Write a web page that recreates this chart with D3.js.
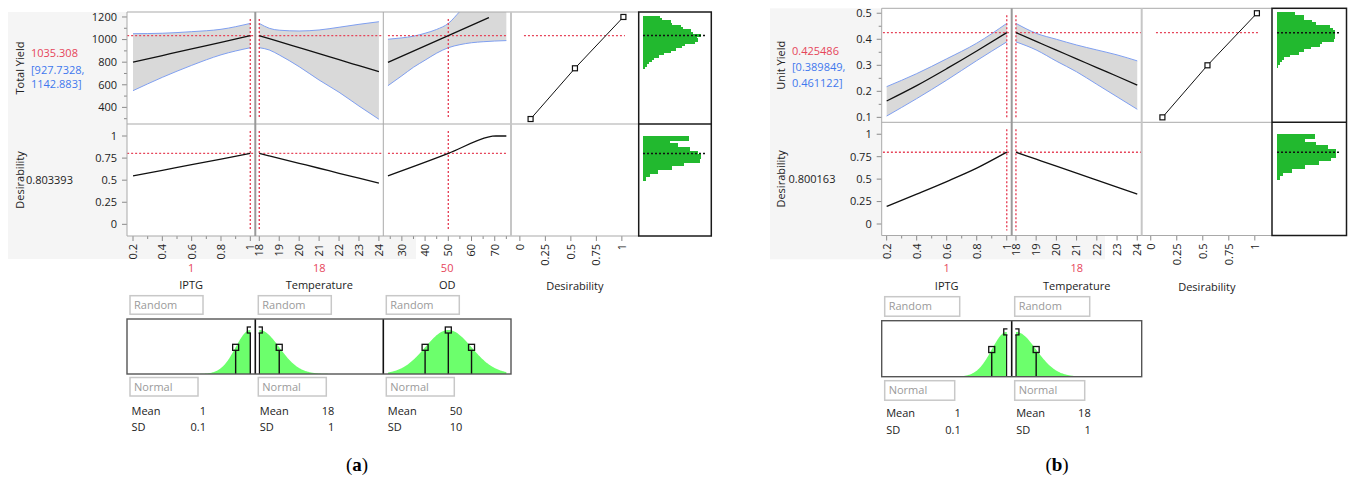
<!DOCTYPE html>
<html>
<head>
<meta charset="utf-8">
<script src="https://cdn.jsdelivr.net/npm/d3@7"></script>
<style>
  body { margin: 0; background: #fff; }
  text { font-family: "Open Sans", "Noto Sans", sans-serif; font-size: 11px; fill: #222; }
</style>
</head>
<body>
<svg id="chart" width="1349" height="479"></svg>
<script>
// ---------- data ----------
// axis ticks
const iptgTicks = [0.2, 0.4, 0.6, 0.8, 1];
const iptgMinor = [0.3, 0.5, 0.7, 0.9];
const tempTicks = [18, 19, 20, 21, 22, 23, 24];
const odTicks = [30, 40, 50, 60, 70];
const odMinor = [25, 35, 45, 55, 65, 75];
const desTicks = [0, 0.25, 0.5, 0.75, 1];
const totalTicks = [400, 600, 800, 1000, 1200];
const totalMinor = [300, 500, 700, 900, 1100];
const unitTicks = [0.1, 0.2, 0.3, 0.4, 0.5];
const unitMinor = [0.15, 0.25, 0.35, 0.45];

// (a) Total Yield profiles
const iptgGrid = [0.2, 0.4, 0.6, 0.8, 1.0];
const totalIptg = [800, 859, 918, 976, 1035];
const totalIptgLo = [548, 666, 772, 865, 928];
const totalIptgHi = [1052, 1056, 1070, 1091, 1143];
const tempGridA = [18, 18.5, 19, 20, 21, 22, 23, 24];
const totalTemp = [1035, 1008, 982, 929, 876, 822, 769, 716];
const totalTempLo = [928, 908, 864, 760, 642, 534, 412, 295];
const totalTempHi = [1143, 1100, 1083, 1076, 1085, 1109, 1135, 1158];
const odGrid = [24, 30, 35, 40, 45, 50, 55, 60, 65, 70, 75];
const totalOdLo = [592, 680, 755, 818, 880, 928, 955, 972, 981, 987, 991];
const totalOdHi = [1003, 1015, 1030, 1056, 1090, 1143, 1250, 1360, 1470, 1580, 1690];
const odLineX = [24, 50, 67.5];
const totalOd = [798, 1035, 1194];
// (a) desirability profiles
const desAIptg = [0.549, 0.612, 0.676, 0.739, 0.803];
const desATemp = [0.803, 0.775, 0.747, 0.691, 0.635, 0.578, 0.522, 0.466];
const odDesX = [24, 50, 67.5, 69, 70.5, 75];
const desAOd = [0.549, 0.803, 0.99, 0.998, 1.0, 1.0];
// (a) desirability function
const desFnAx = [0.105, 0.54, 1.015];
const desFnAy = [297, 746, 1200];
// (a) simulated distributions
const totalBins = [1200, 1180, 1160, 1140, 1120, 1100, 1080, 1060, 1040, 1020, 1000, 980,
                   960, 940, 920, 900, 880, 860, 840, 820, 800, 780, 760];
const totalCounts = [50, 57, 83, 86, 113, 119, 143, 151, 173, 163, 165, 156,
                     125, 116, 98, 84, 63, 47, 33, 26, 18, 11, 6];
const desBins = [0.979, 0.938, 0.896, 0.854, 0.813, 0.771, 0.729, 0.688, 0.646, 0.604, 0.563, 0.521];
const desACounts = [138, 80, 104, 140, 165, 173, 170, 123, 86, 45, 21, 9];

// (b) Unit Yield profiles
const unitIptg = [0.163, 0.222, 0.287, 0.355, 0.4255];
const unitIptgLo = [0.105, 0.172, 0.243, 0.318, 0.390];
const unitIptgHi = [0.218, 0.268, 0.325, 0.385, 0.461];
const tempGridB = [18, 19, 20, 21, 22, 23, 24];
const unitTemp = [0.4255, 0.392, 0.358, 0.325, 0.291, 0.258, 0.224];
const unitTempLo = [0.390, 0.359, 0.316, 0.275, 0.227, 0.179, 0.131];
const unitTempHi = [0.461, 0.423, 0.400, 0.378, 0.359, 0.340, 0.317];
const desBIptg = [0.196, 0.333, 0.473, 0.622, 0.800];
const desBTemp = [0.800, 0.722, 0.644, 0.567, 0.489, 0.411, 0.333];
const desFnBx = [0.112, 0.545, 1.02];
const desFnBy = [0.1, 0.3, 0.5];
const unitBins = [0.50, 0.49, 0.48, 0.47, 0.46, 0.45, 0.44, 0.43, 0.42, 0.41, 0.40,
                  0.39, 0.38, 0.37, 0.36, 0.35, 0.34, 0.33, 0.32, 0.31, 0.30];
const unitCounts = [53, 82, 82, 105, 117, 159, 167, 174, 174, 174, 170,
                    135, 129, 103, 80, 66, 40, 20, 14, 8, 4];
const desBCounts = [114, 84, 117, 152, 177, 177, 162, 125, 84, 45, 17, 9];

// ---------- styles ----------
const RED = "#e6455a", BLUE = "#3f78ee", BAND = "#d9d9d9", BANDLINE = "#7f9ff0";
const GREEN = "#22b92f", LIGHTGREEN = "#6cff6c", FRAME = "#a9a9a9", TICK = "#8a8a8a";

const svg = d3.select("#chart");
const defs = svg.append("defs");

const zip = (xs, ...cols) => xs.map((x, k) => ({x, v: cols.map(c => c[k])}));

function drawProfiler(cfg) {
  const g = svg.append("g");
  const L = cfg.layout;
  g.append("rect").attr("x", L.bg[0]).attr("y", L.bg[1])
    .attr("width", L.bg[2] - L.bg[0]).attr("height", L.bg[3] - L.bg[1]).attr("fill", "#f5f5f5");

  const x0 = cfg.factors[0].x0, x1 = cfg.desPanel.x1;
  g.append("rect").attr("x", x0).attr("y", L.top).attr("width", x1 - x0)
    .attr("height", L.bottom - L.top).attr("fill", "#fff");

  const yR = d3.scaleLinear().domain(cfg.resp.domain).range([L.mid, L.top]);
  const yD = d3.scaleLinear().domain(cfg.desDomain).range([L.bottom, L.mid]);

  // left labels
  g.append("text").attr("transform", `translate(${L.labelX},${(L.top + L.mid) / 2}) rotate(-90)`)
    .attr("text-anchor", "middle").text(cfg.resp.name);
  g.append("text").attr("x", L.valueX).attr("y", L.valueY[0]).style("fill", RED).text(cfg.resp.value);
  g.append("text").attr("x", L.valueX).attr("y", L.valueY[1]).style("fill", BLUE).text(cfg.resp.ci[0]);
  g.append("text").attr("x", L.valueX).attr("y", L.valueY[2]).style("fill", BLUE).text(cfg.resp.ci[1]);
  g.append("text").attr("transform", `translate(${L.labelX},${(L.mid + L.bottom) / 2}) rotate(-90)`)
    .attr("text-anchor", "middle").text("Desirability");
  g.append("text").attr("x", L.desValueX).attr("y", (L.mid + L.bottom) / 2 + 4).text(cfg.desValue);

  // y axes
  const yAxis = (scale, major, minor, fmt) => {
    major.forEach(t => {
      g.append("line").attr("x1", x0 - 5).attr("x2", x0).attr("y1", scale(t)).attr("y2", scale(t)).attr("stroke", TICK);
      g.append("text").attr("x", x0 - 10).attr("y", scale(t)).attr("dy", "0.35em")
        .attr("text-anchor", "end").text(fmt(t));
    });
    minor.forEach(t => g.append("line").attr("x1", x0 - 3).attr("x2", x0)
      .attr("y1", scale(t)).attr("y2", scale(t)).attr("stroke", TICK));
  };
  yAxis(yR, cfg.resp.ticks, cfg.resp.minor, d => String(d));
  yAxis(yD, desTicks, [], d => String(d));

  const xAxis = (xs, major, minor) => {
    major.forEach(t => {
      g.append("line").attr("x1", xs(t)).attr("x2", xs(t)).attr("y1", L.bottom).attr("y2", L.bottom + 5).attr("stroke", TICK);
      g.append("text").attr("transform", `translate(${xs(t)},${L.bottom + 8}) rotate(-90)`)
        .attr("dy", "0.35em").attr("text-anchor", "end").text(String(t));
    });
    minor.forEach(t => g.append("line").attr("x1", xs(t)).attr("x2", xs(t))
      .attr("y1", L.bottom).attr("y2", L.bottom + 3).attr("stroke", TICK));
  };

  const redLine = (sel, a, b, c, d) => sel.append("line").attr("x1", a).attr("y1", b).attr("x2", c).attr("y2", d)
    .attr("stroke", RED).attr("stroke-width", 1.4).attr("stroke-dasharray", "2,2");

  const curve = d3.curveMonotoneX;

  cfg.factors.forEach((f, i) => {
    const xs = d3.scaleLinear().domain(f.domain).range([f.x0, f.x1]);
    const c1 = `${cfg.id}r1c${i}`, c2 = `${cfg.id}r2c${i}`;
    defs.append("clipPath").attr("id", c1).append("rect")
      .attr("x", f.x0).attr("y", L.top).attr("width", f.x1 - f.x0).attr("height", L.mid - L.top);
    defs.append("clipPath").attr("id", c2).append("rect")
      .attr("x", f.x0).attr("y", L.mid).attr("width", f.x1 - f.x0).attr("height", L.bottom - L.mid);
    const r1 = g.append("g").attr("clip-path", `url(#${c1})`);
    const r2 = g.append("g").attr("clip-path", `url(#${c2})`);

    // confidence band
    const band = zip(f.band.x, f.band.lo, f.band.hi);
    r1.append("path").datum(band).attr("fill", BAND)
      .attr("d", d3.area().x(d => xs(d.x)).y0(d => yR(d.v[0])).y1(d => yR(d.v[1])).curve(curve));
    [0, 1].forEach(k => r1.append("path").datum(band).attr("fill", "none")
      .attr("stroke", BANDLINE).attr("stroke-width", 1)
      .attr("d", d3.line().x(d => xs(d.x)).y(d => yR(d.v[k])).curve(curve)));

    // current settings
    const cx = xs(f.current);
    redLine(r1, cx, L.top + 7, cx, L.mid - 5);
    redLine(r2, cx, L.mid + 7, cx, L.bottom - 5);
    redLine(r1, xs(f.redSpan[0]), yR(cfg.resp.current), xs(f.redSpan[1]), yR(cfg.resp.current));
    redLine(r2, xs(f.redSpan[0]), yD(cfg.desCurrent), xs(f.redSpan[1]), yD(cfg.desCurrent));

    // prediction and desirability traces
    r1.append("path").datum(zip(f.pred.x, f.pred.y)).attr("fill", "none")
      .attr("stroke", "#111").attr("stroke-width", 1.3)
      .attr("d", d3.line().x(d => xs(d.x)).y(d => yR(d.v[0])).curve(curve));
    r2.append("path").datum(zip(f.des.x, f.des.y)).attr("fill", "none")
      .attr("stroke", "#111").attr("stroke-width", 1.3)
      .attr("d", d3.line().x(d => xs(d.x)).y(d => yD(d.v[0])).curve(curve));

    xAxis(xs, f.ticks, f.minor);

    const cxPanel = (f.x0 + f.x1) / 2;
    g.append("text").attr("x", cxPanel).attr("y", L.redY).attr("text-anchor", "middle")
      .style("fill", RED).text(String(f.current));
    g.append("text").attr("x", cxPanel).attr("y", L.nameY).attr("text-anchor", "middle").text(f.name);

    // simulator boxes
    const box = (y, h, w, label) => {
      g.append("rect").attr("x", f.x0 + 3).attr("y", y).attr("width", w).attr("height", h)
        .attr("fill", "#fff").attr("stroke", "#c8c8c8").attr("stroke-width", 1.5);
      g.append("text").attr("x", f.x0 + 7).attr("y", y + h / 2).attr("dy", "0.36em")
        .style("fill", "#9a9a9a").text(label);
    };
    box(L.randomY, L.boxH, L.randomW, "Random");
    box(L.normalY, L.boxH, L.normalW, "Normal");
    g.append("text").attr("x", f.x0 + 4.5).attr("y", L.meanY).text("Mean");
    g.append("text").attr("x", f.x0 + 79).attr("y", L.meanY).attr("text-anchor", "end").text(String(f.mean));
    g.append("text").attr("x", f.x0 + 4.5).attr("y", L.sdY).text("SD");
    g.append("text").attr("x", f.x0 + 79).attr("y", L.sdY).attr("text-anchor", "end").text(String(f.sd));

    // normal density given by the Mean / SD settings, scaled to a peak of 1
    const cd = `${cfg.id}d${i}`;
    const clipL = Math.max(f.x0, xs(f.range[0]) - 0.7), clipR = Math.min(f.x1, xs(f.range[1]) + 0.7);
    defs.append("clipPath").attr("id", cd).append("rect")
      .attr("x", clipL).attr("y", L.distTop).attr("width", clipR - clipL).attr("height", L.distBottom - L.distTop);
    const dg = g.append("g").attr("clip-path", `url(#${cd})`);
    const yh = d3.scaleLinear().domain([0, 1.25]).range([L.distBottom, L.distTop]);
    const dens = x => Math.exp(-0.5 * ((x - f.mean) / f.sd) ** 2);
    const xsamp = d3.range(0, 201).map(k => f.range[0] + (f.range[1] - f.range[0]) * k / 200);
    dg.append("path").datum(xsamp).attr("fill", LIGHTGREEN)
      .attr("d", d3.area().x(d => xs(d)).y0(L.distBottom).y1(d => yh(dens(d))));
    [f.mean - f.sd, f.mean, f.mean + f.sd].filter(v => v >= f.range[0] - 1e-9 && v <= f.range[1] + 1e-9)
      .forEach(v => {
        const px = xs(v), py = yh(dens(v));
        dg.append("line").attr("x1", px).attr("x2", px).attr("y1", py + 3).attr("y2", L.distBottom)
          .attr("stroke", "#111").attr("stroke-width", 1.4);
        dg.append("rect").attr("x", px - 3).attr("y", py - 3).attr("width", 6).attr("height", 6)
          .attr("fill", "none").attr("stroke", "#111").attr("stroke-width", 1.3);
      });
    if (i > 0) g.append("line").attr("x1", f.x0).attr("x2", f.x0).attr("y1", L.distTop).attr("y2", L.distBottom)
      .attr("stroke", "#111").attr("stroke-width", 1.6);
  });

  // distribution frame
  const fl = cfg.factors[cfg.factors.length - 1];
  g.append("rect").attr("x", x0).attr("y", L.distTop).attr("width", fl.x1 - x0)
    .attr("height", L.distBottom - L.distTop).attr("fill", "none").attr("stroke", "#555").attr("stroke-width", 1.4);

  // desirability function panel
  const dp = cfg.desPanel;
  const xd = d3.scaleLinear().domain(dp.domain).range([dp.x0, dp.x1]);
  redLine(g, xd(dp.redSpan[0]), yR(cfg.resp.current), xd(dp.redSpan[1]), yR(cfg.resp.current));
  const pts = zip(dp.x, dp.y);
  g.append("path").datum(pts).attr("fill", "none").attr("stroke", "#111").attr("stroke-width", 1)
    .attr("d", d3.line().x(d => xd(d.x)).y(d => yR(d.v[0])));
  g.selectAll(null).data(pts).join("rect").attr("class", "dfpt")
    .attr("x", d => xd(d.x) - 2.5).attr("y", d => yR(d.v[0]) - 2.5).attr("width", 5).attr("height", 5)
    .attr("fill", "#fff").attr("stroke", "#111").attr("stroke-width", 1.2);
  xAxis(xd, desTicks, []);
  g.append("text").attr("x", (dp.x0 + dp.x1) / 2).attr("y", L.nameY + 1).attr("text-anchor", "middle").text("Desirability");

  // frames
  const frame = (a, b, c, d, col, w) => g.append("line").attr("x1", a).attr("y1", b).attr("x2", c).attr("y2", d)
    .attr("stroke", col).attr("stroke-width", w);
  frame(x0, L.top, x1, L.top, FRAME, 1);
  frame(x0, L.mid, x1, L.mid, FRAME, 1);
  frame(x0, L.bottom, x1, L.bottom, FRAME, 1);
  frame(x0, L.top, x0, L.bottom, FRAME, 1);
  cfg.seps.forEach(s => frame(s.x, L.top, s.x, L.bottom, s.c, s.w));

  // simulated histograms (bars overlap by a pixel so no seams show)
  const h = cfg.hist;
  const hx = d3.scaleLinear().domain([0, 180]).range([h.barX, h.barX + 60]);
  const drawHist = (bins, counts, scale, step) => {
    g.append("g").attr("shape-rendering", "crispEdges")
      .selectAll("rect").data(bins.map((b, k) => ({b, c: counts[k]}))).join("rect")
      .attr("x", h.barX).attr("width", d => hx(d.c) - h.barX)
      .attr("y", d => Math.round(scale(d.b + step / 2)))
      .attr("height", d => Math.round(scale(d.b - step / 2)) - Math.round(scale(d.b + step / 2)) + 1)
      .attr("fill", GREEN);
  };
  drawHist(h.respBins, h.respCounts, yR, h.respStep);
  drawHist(desBins, h.desCounts, yD, 1 / 24);
  const dot = (y) => g.append("line").attr("x1", h.barX).attr("x2", h.barX + 62).attr("y1", y).attr("y2", y)
    .attr("stroke", "#111").attr("stroke-width", 1.5).attr("stroke-dasharray", "2,2");
  dot(yR(cfg.resp.current));
  dot(yD(cfg.desCurrent));
  g.append("rect").attr("x", dp.x1).attr("y", L.top).attr("width", h.x1 - dp.x1).attr("height", L.bottom - L.top)
    .attr("fill", "none").attr("stroke", "#1a1a1a").attr("stroke-width", 1.5);
  frame(dp.x1, L.mid, h.x1, L.mid, "#1a1a1a", 1.5);

  // caption
  const cap = svg.append("text").attr("x", cfg.capX).attr("y", 471).attr("text-anchor", "middle")
    .style("font-family", "'Liberation Serif', 'DejaVu Serif', serif").style("font-size", "19px").style("fill", "#000");
  cap.append("tspan").text("(");
  cap.append("tspan").style("font-weight", "bold").text(cfg.capLetter);
  cap.append("tspan").text(")");
}

// ---------- panel (a) ----------
drawProfiler({
  id: "a", capX: 357, capLetter: "a",
  layout: {bg: [8, 12, 416, 259], top: 12, mid: 124, bottom: 236,
    labelX: 24, valueX: 31, valueY: [57, 74, 88], desValueX: 26,
    redY: 272, nameY: 289, randomY: 295.7, normalY: 377.5, boxH: 18.5, randomW: 73, normalW: 68,
    distTop: 319, distBottom: 374, meanY: 415, sdY: 431},
  resp: {name: "Total Yield", domain: [253, 1244], ticks: totalTicks, minor: totalMinor,
    value: "1035.308", ci: ["[927.7328,", "1142.883]"], current: 1035.308},
  desDomain: [-0.132, 1.136], desValue: "0.803393", desCurrent: 0.803393,
  factors: [
    {name: "IPTG", x0: 127, x1: 255.3, domain: [0.159, 1.034], ticks: iptgTicks, minor: iptgMinor,
     current: 1, mean: 1, sd: 0.1, range: [0.2, 1], redSpan: [0.16, 1.02],
     band: {x: iptgGrid, lo: totalIptgLo, hi: totalIptgHi}, pred: {x: iptgGrid, y: totalIptg},
     des: {x: iptgGrid, y: desAIptg}},
    {name: "Temperature", x0: 255.3, x1: 383.3, domain: [17.8, 24.22], ticks: tempTicks, minor: [],
     current: 18, mean: 18, sd: 1, range: [18, 24], redSpan: [18, 24.22],
     band: {x: tempGridA, lo: totalTempLo, hi: totalTempHi}, pred: {x: tempGridA, y: totalTemp},
     des: {x: tempGridA, y: desATemp}},
    {name: "OD", x0: 383.3, x1: 511, domain: [22, 77], ticks: odTicks, minor: odMinor,
     current: 50, mean: 50, sd: 10, range: [24, 75], redSpan: [24, 75],
     band: {x: odGrid, lo: totalOdLo, hi: totalOdHi}, pred: {x: odLineX, y: totalOd},
     des: {x: odDesX, y: desAOd}}
  ],
  seps: [{x: 255.3, c: "#999", w: 2}, {x: 383.3, c: FRAME, w: 1}, {x: 511, c: "#c6c6c6", w: 2}],
  desPanel: {x0: 511, x1: 638.7, domain: [-0.087, 1.165], x: desFnAx, y: desFnAy, redSpan: [0.04, 1.03]},
  hist: {x1: 711.3, barX: 643, respBins: totalBins, respCounts: totalCounts, respStep: 20, desCounts: desACounts}
});

// ---------- panel (b) ----------
drawProfiler({
  id: "b", capX: 1057, capLetter: "b",
  layout: {bg: [770, 8.3, 1105, 259.3], top: 8.3, mid: 122.3, bottom: 235.5,
    labelX: 784.5, valueX: 792, valueY: [55, 71, 86.5], desValueX: 788.5,
    redY: 272, nameY: 289.5, randomY: 296.7, normalY: 380.7, boxH: 19.5, randomW: 75, normalW: 70,
    distTop: 320.7, distBottom: 376.7, meanY: 417.3, sdY: 434.3},
  resp: {name: "Unit Yield", domain: [0.081, 0.519], ticks: unitTicks, minor: unitMinor,
    value: "0.425486", ci: ["[0.389849,", "0.461122]"], current: 0.425486},
  desDomain: [-0.128, 1.133], desValue: "0.800163", desCurrent: 0.800163,
  factors: [
    {name: "IPTG", x0: 881.7, x1: 1011.7, domain: [0.167, 1.033], ticks: iptgTicks, minor: iptgMinor,
     current: 1, mean: 1, sd: 0.1, range: [0.2, 1], redSpan: [0.175, 1.02],
     band: {x: iptgGrid, lo: unitIptgLo, hi: unitIptgHi}, pred: {x: iptgGrid, y: unitIptg},
     des: {x: iptgGrid, y: desBIptg}},
    {name: "Temperature", x0: 1011.7, x1: 1141.7, domain: [17.79, 24.22], ticks: tempTicks, minor: [],
     current: 18, mean: 18, sd: 1, range: [18, 24], redSpan: [18, 24.22],
     band: {x: tempGridB, lo: unitTempLo, hi: unitTempHi}, pred: {x: tempGridB, y: unitTemp},
     des: {x: tempGridB, y: desBTemp}}
  ],
  seps: [{x: 1011.7, c: "#999", w: 2}, {x: 1141.7, c: "#c6c6c6", w: 2}],
  desPanel: {x0: 1141.7, x1: 1272, domain: [-0.087, 1.165], x: desFnBx, y: desFnBy, redSpan: [0.05, 1.03]},
  hist: {x1: 1346.5, barX: 1277, respBins: unitBins, respCounts: unitCounts, respStep: 0.01, desCounts: desBCounts}
});
</script>
</body>
</html>
